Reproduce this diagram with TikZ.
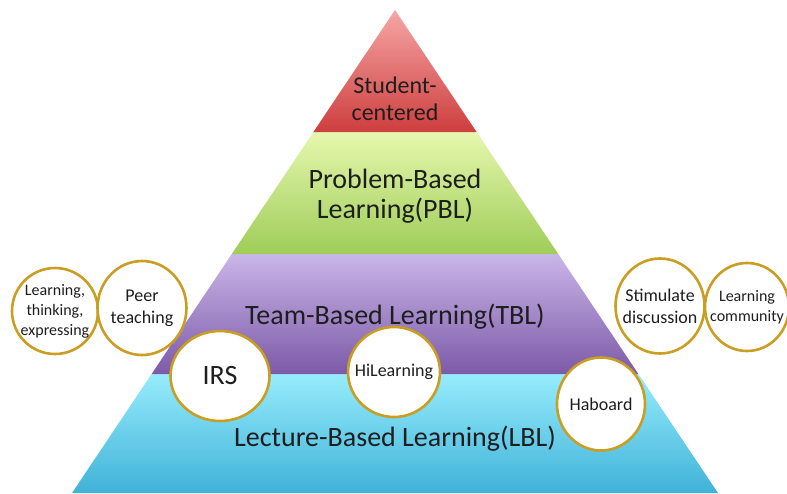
\documentclass[tikz,border=0pt]{standalone}
\usepackage{fontspec}
\setmainfont{Carlito}
\usepackage{tikz}
\usetikzlibrary{shapes.geometric}

\definecolor{ringGold}{RGB}{201,158,34}
\definecolor{redTop}{RGB}{246,166,166}
\definecolor{redBot}{RGB}{206,62,62}
\definecolor{greenTop}{RGB}{230,247,174}
\definecolor{greenBot}{RGB}{158,205,88}
\definecolor{purpleTop}{RGB}{202,182,232}
\definecolor{purpleBot}{RGB}{124,90,168}
\definecolor{blueTop}{RGB}{150,236,252}
\definecolor{blueBot}{RGB}{64,178,216}
\definecolor{inkGray}{RGB}{30,30,30}

\tikzset{
    bubble/.style={ellipse, draw=ringGold, line width=2.6pt, fill=white, inner sep=0pt},
    bubbletext/.style={align=center, text=inkGray, inner sep=0pt},
    layertext/.style={align=center, text=inkGray, font=\fontsize{28}{30}\selectfont},
}

\begin{document}
\begin{tikzpicture}[x=1pt, y=-1pt]
    \useasboundingbox (0,0) rectangle (787,493);
    % Base (Lecture-Based)
    \shade[top color=blueTop, bottom color=blueBot]
        (151.6,374) -- (638.4,374) -- (718,493) -- (72,493) -- cycle;
    % Team-Based
    \shade[top color=purpleTop, bottom color=purpleBot]
        (231.8,254) -- (558.2,254) -- (638.4,374) -- (151.6,374) -- cycle;
    % Problem-Based
    \shade[top color=greenTop, bottom color=greenBot]
        (313.4,132) -- (476.6,132) -- (558.2,254) -- (231.8,254) -- cycle;
    % Topo (Student-centered)
    \shade[top color=redTop, bottom color=redBot]
        (395,10) -- (476.6,132) -- (313.4,132) -- cycle;

    % Textos das camadas
    \node (sc) at (395,99) [layertext, font=\fontsize{24}{27}\selectfont] {Student-\\centered};
    \node (pbl) at (395,196) [layertext] {Problem-Based\\Learning(PBL)};
    \node (tbl) at (395,324) [layertext, anchor=base] {Team-Based Learning(TBL)};
    \node (lbl) at (395,446) [layertext, anchor=base] {Lecture-Based Learning(LBL)};

    % Bolhas da esquerda
    \node (lte) at (55,311) [bubble, minimum width=86pt, minimum height=86pt] {};
    \node (lteText) at (lte) [bubbletext, font=\fontsize{16}{20}\selectfont] {Learning,\\thinking,\\expressing};
    \node (peer) at (142,308) [bubble, minimum width=89pt, minimum height=94pt] {};
    \node (peerText) at (peer) [bubbletext, font=\fontsize{18}{22}\selectfont] {Peer\\teaching};

    % Bolhas da direita
    \node (stim) at (660,306) [bubble, minimum width=89pt, minimum height=95pt] {};
    \node (stimText) at (stim) [bubbletext, font=\fontsize{18}{22}\selectfont] {Stimulate\\discussion};
    \node (comm) at (747,307) [bubble, minimum width=84pt, minimum height=88pt] {};
    \node (commText) at (comm) [bubbletext, font=\fontsize{16}{20}\selectfont] {Learning\\community};

    % Ferramentas
    \node (irs) at (220,376) [bubble, minimum width=99pt, minimum height=90pt] {};
    \node (irsText) at (irs) [bubbletext, font=\fontsize{28}{30}\selectfont] {IRS};
    \node (hil) at (394,372) [bubble, minimum width=92pt, minimum height=90pt] {};
    \node (hilText) at (hil) [bubbletext, font=\fontsize{18}{22}\selectfont] {HiLearning};
    \node (hab) at (601,404) [bubble, minimum width=88pt, minimum height=93pt] {};
    \node (habText) at (hab) [bubbletext, font=\fontsize{18}{22}\selectfont] {Haboard};
\end{tikzpicture}
\end{document}
